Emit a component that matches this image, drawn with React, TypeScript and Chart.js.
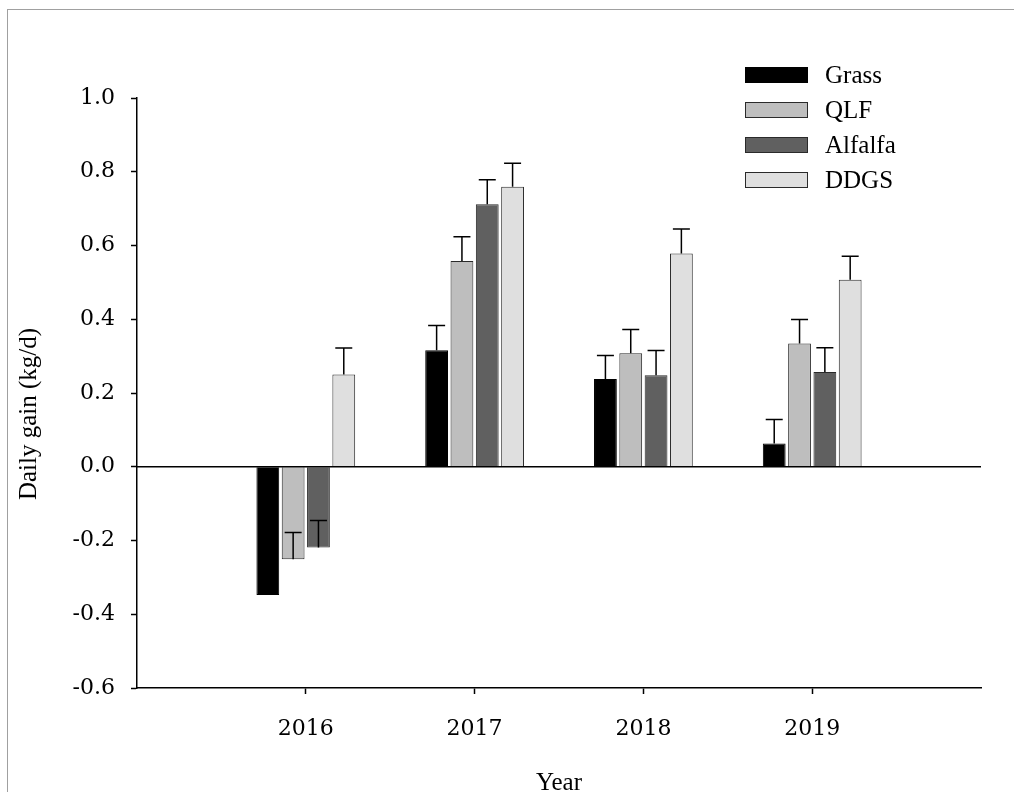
import React, { useEffect, useRef } from 'react';
import { Chart, registerables } from 'chart.js';

Chart.register(...registerables);

// Category axis runs 2015..2020 so that 2016..2019 sit where the reference puts them
const years = ['2015', '2016', '2017', '2018', '2019', '2020'];
const seriesNames = ['Grass', 'QLF', 'Alfalfa', 'DDGS'];

const grass = [null, -0.348, 0.316, 0.238, 0.063, null];
const qlf = [null, -0.251, 0.558, 0.308, 0.334, null];
const alfalfa = [null, -0.219, 0.712, 0.248, 0.257, null];
const ddgs = [null, 0.25, 0.759, 0.578, 0.507, null];

const grassErr = [null, 0.07, 0.067, 0.064, 0.065, null];
const qlfErr = [null, 0.073, 0.066, 0.064, 0.065, null];
const alfalfaErr = [null, 0.073, 0.066, 0.067, 0.066, null];
const ddgsErr = [null, 0.072, 0.064, 0.067, 0.064, null];

const yTicks = [-0.6, -0.4, -0.2, 0, 0.2, 0.4, 0.6, 0.8, 1.0];

const colors = ['#000000', '#bebebe', '#606060', '#dfdfdf'];
const borderColors = ['#000000', '#2a2a2a', '#2a2a2a', '#2a2a2a'];

const xTitle = 'Year';
const yTitle = 'Daily gain (kg/d)';

const TEXT_FONT = '25px "Liberation Serif", "Times New Roman", serif';
const TICK_FONT_FAMILY = '"DejaVu Serif", serif';

export default function App() {
  const canvasRef = useRef<HTMLCanvasElement | null>(null);

  useEffect(() => {
    const canvas = canvasRef.current;
    if (!canvas) return;
    const values = [grass, qlf, alfalfa, ddgs];
    const errs = [grassErr, qlfErr, alfalfaErr, ddgsErr];

    const extras = {
      id: 'extras',
      afterDatasetsDraw(chart: any) {
        const ctx = chart.ctx;
        const ys = chart.scales.y;
        const area = chart.chartArea;
        ctx.save();
        // zero line
        const y0 = ys.getPixelForValue(0);
        ctx.strokeStyle = '#000';
        ctx.lineWidth = 1.5;
        ctx.beginPath();
        ctx.moveTo(area.left, y0);
        ctx.lineTo(area.right, y0);
        ctx.stroke();
        // error bars
        chart.data.datasets.forEach((ds: any, i: number) => {
          const meta = chart.getDatasetMeta(i);
          meta.data.forEach((bar: any, j: number) => {
            const v = ds.data[j];
            const e = errs[i][j];
            if (v == null || e == null) return;
            const yv = ys.getPixelForValue(v);
            const ye = ys.getPixelForValue(v + e);
            ctx.strokeStyle = '#000';
            ctx.lineWidth = 1.5;
            ctx.beginPath();
            ctx.moveTo(bar.x, yv);
            ctx.lineTo(bar.x, ye);
            ctx.moveTo(bar.x - 8.5, ye);
            ctx.lineTo(bar.x + 8.5, ye);
            ctx.stroke();
          });
        });
        ctx.restore();
      },
      afterDraw(chart: any) {
        const ctx = chart.ctx;
        ctx.save();
        // legend
        const rowY = [75, 110, 145, 180];
        seriesNames.forEach((name, i) => {
          const cy = rowY[i];
          ctx.fillStyle = colors[i];
          ctx.fillRect(745, cy - 8, 63, 16);
          ctx.strokeStyle = borderColors[i];
          ctx.lineWidth = 1;
          ctx.strokeRect(745.5, cy - 7.5, 62, 15);
          ctx.fillStyle = '#000';
          ctx.font = TEXT_FONT;
          ctx.textAlign = 'left';
          ctx.textBaseline = 'middle';
          ctx.fillText(name, 825, cy + 1);
        });
        // axis titles
        const area = chart.chartArea;
        ctx.fillStyle = '#000';
        ctx.font = TEXT_FONT;
        ctx.textAlign = 'center';
        ctx.textBaseline = 'alphabetic';
        ctx.fillText(xTitle, (area.left + area.right) / 2, 790);
        ctx.translate(29, 414);
        ctx.rotate(-Math.PI / 2);
        ctx.textBaseline = 'middle';
        ctx.fillText(yTitle, 0, 0);
        ctx.restore();
      },
    };

    const chart = new Chart(canvas, {
      type: 'bar',
      data: {
        labels: years,
        datasets: seriesNames.map((name, i) => ({
          label: name,
          data: values[i],
          backgroundColor: colors[i],
          borderColor: borderColors[i],
          borderWidth: 1,
          categoryPercentage: 0.6,
          barPercentage: 0.9,
        })),
      },
      options: {
        responsive: false,
        animation: false,
        layout: { padding: { top: 98, right: 33, left: 0, bottom: 0 } },
        plugins: {
          legend: { display: false },
          tooltip: { enabled: false },
          title: { display: false },
        },
        scales: {
          x: {
            type: 'category',
            offset: false,
            border: { display: true, color: '#000', width: 1.5 },
            grid: {
              display: true,
              offset: false,
              drawOnChartArea: false,
              drawTicks: true,
              tickLength: 6,
              tickWidth: 1.5,
              tickColor: (c: any) =>
                c.index === 0 || c.index === years.length - 1 ? 'rgba(0,0,0,0)' : '#000',
            },
            ticks: {
              color: '#000',
              font: { family: TICK_FONT_FAMILY, size: 22 },
              padding: 22,
              maxRotation: 0,
              autoSkip: false,
              callback: (_v: any, idx: number) =>
                idx === 0 || idx === years.length - 1 ? '' : years[idx],
            },
            afterFit: (s: any) => {
              s.height = 104;
            },
          },
          y: {
            type: 'linear',
            min: -0.6,
            max: 1.0,
            border: { display: true, color: '#000', width: 1.5 },
            grid: {
              display: true,
              drawOnChartArea: false,
              drawTicks: true,
              tickLength: 6,
              tickWidth: 1.5,
              tickColor: '#000',
            },
            afterBuildTicks: (s: any) => {
              s.ticks = yTicks.map((v) => ({ value: v }));
            },
            ticks: {
              color: '#000',
              font: { family: TICK_FONT_FAMILY, size: 22 },
              padding: 16,
              callback: (v: any) => Number(v).toFixed(1),
            },
            afterFit: (s: any) => {
              s.width = 137;
            },
          },
        },
      },
      plugins: [extras],
    } as any);

    return () => chart.destroy();
  }, []);

  return (
    <>
      <div
        style={{
          position: 'fixed',
          left: 7,
          top: 9,
          width: 1100,
          height: 900,
          borderTop: '1px solid #a0a0a0',
          borderLeft: '1px solid #a0a0a0',
          pointerEvents: 'none',
        }}
      />
      <canvas
        ref={canvasRef}
        width={1014}
        height={792}
        style={{ position: 'fixed', left: 0, top: 0, display: 'block' }}
      />
    </>
  );
}
